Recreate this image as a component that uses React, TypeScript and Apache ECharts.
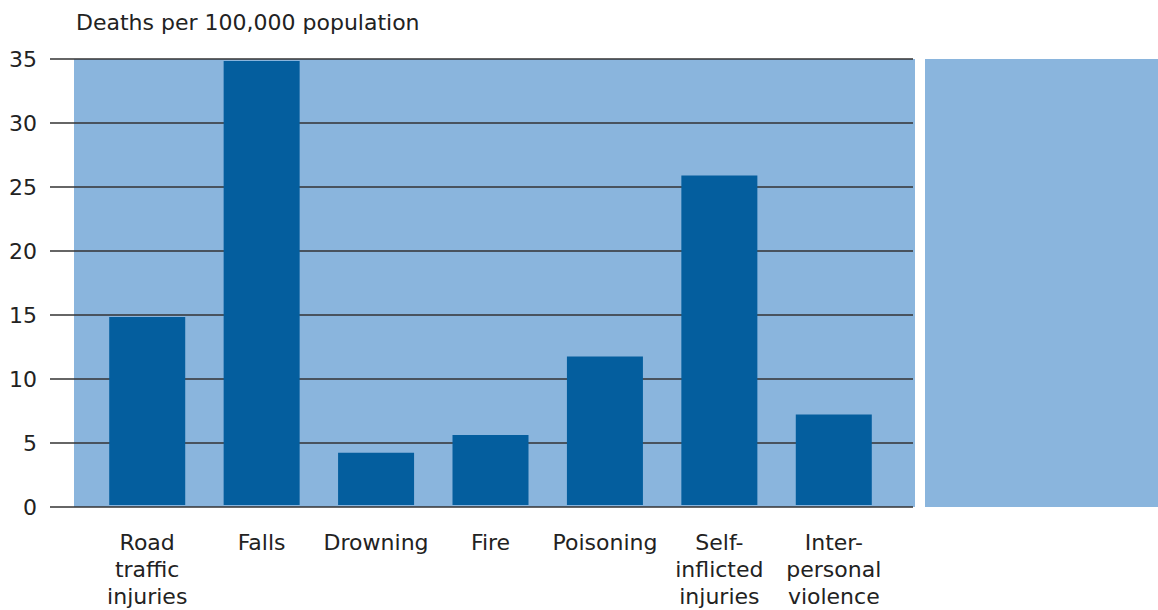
import React, { useEffect, useRef } from "react";
import * as echarts from "echarts";

const categories = [
  "Road\ntraffic\ninjuries",
  "Falls",
  "Drowning",
  "Fire",
  "Poisoning",
  "Self-\ninflicted\ninjuries",
  "Inter-\npersonal\nviolence",
];
const deathRates = [14.75, 34.85, 4.1, 5.5, 11.65, 25.85, 7.1];
const yMin = 0;
const yMax = 35;
const yInterval = 5;
const titleText = "Deaths per 100,000 population";

const FONT = "'DejaVu Sans', sans-serif";

export default function App() {
  const ref = useRef<HTMLDivElement>(null);
  useEffect(() => {
    if (!ref.current) return;
    const chart = echarts.init(ref.current, undefined, { renderer: "svg" });
    chart.setOption({
      animation: false,
      backgroundColor: "#ffffff",
      textStyle: { fontFamily: FONT },
      title: {
        text: titleText,
        left: 71,
        top: 6,
        textStyle: { fontSize: 22, fontWeight: "normal", color: "#222222", fontFamily: FONT },
      },
      graphic: [
        {
          type: "rect",
          z: -1,
          shape: { x: 74, y: 59, width: 841, height: 448 },
          style: { fill: "#8ab5dd" },
          silent: true,
        },
        {
          type: "rect",
          z: -1,
          shape: { x: 925, y: 59, width: 233, height: 448 },
          style: { fill: "#8ab5dd" },
          silent: true,
        },
      ],
      grid: [
        { left: 50, right: 245, top: 59, bottom: 103 },
        { left: 90, right: 267, top: 59, bottom: 103 },
      ],
      xAxis: [
        { gridIndex: 0, type: "value", show: false, min: 0, max: 1 },
        {
          gridIndex: 1,
          type: "category",
          data: categories,
          axisLine: { show: false },
          axisTick: { show: false },
          axisLabel: {
            margin: 24,
            fontSize: 22,
            lineHeight: 27,
            color: "#222222",
            fontFamily: FONT,
            align: "center",
            verticalAlign: "top",
            interval: 0,
          },
        },
      ],
      yAxis: [
        {
          gridIndex: 0,
          type: "value",
          min: yMin,
          max: yMax,
          interval: yInterval,
          axisLine: { show: false },
          axisTick: { show: false },
          axisLabel: { fontSize: 22, color: "#222222", margin: 13, fontFamily: FONT },
          splitLine: { show: true, lineStyle: { color: "#333333", width: 1.5 } },
        },
        {
          gridIndex: 1,
          type: "value",
          min: yMin,
          max: yMax,
          interval: yInterval,
          show: false,
          splitLine: { show: false },
        },
      ],
      series: [
        {
          type: "bar",
          xAxisIndex: 1,
          yAxisIndex: 1,
          data: deathRates,
          barWidth: 76,
          itemStyle: { color: "#045e9e" },
          z: 3,
        },
      ],
    });
    return () => chart.dispose();
  }, []);
  return (
    <div
      ref={ref}
      style={{ position: "fixed", left: 0, top: 0, width: 1158, height: 610 }}
    />
  );
}
